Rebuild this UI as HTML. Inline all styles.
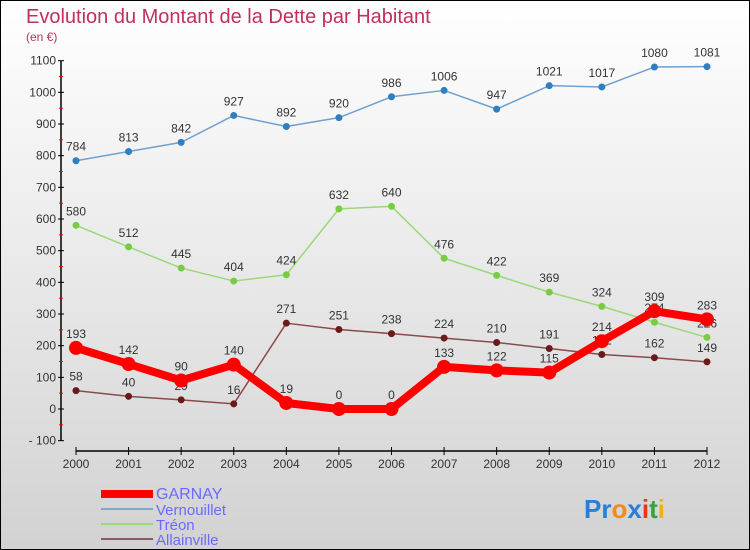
<!DOCTYPE html>
<html><head><meta charset="utf-8"><style>
body{margin:0;}
#wrap{width:748px;height:548px;border:1px solid #000;background:linear-gradient(#ffffff,#d2d2d2);position:relative;overflow:hidden;font-family:"Liberation Sans",sans-serif;}
</style></head><body>
<div id="wrap">
<svg id="chart" width="748" height="548">
<text x="25" y="22" font-size="20" fill="#c0305a">Evolution du Montant de la Dette par Habitant</text>
<text x="25" y="40" font-size="12" fill="#c0305a">(en €)</text>
<g id="axes"></g>
<g id="series"></g>
<g id="legend">
<rect x="100" y="489" width="52" height="8" fill="#ff0000"/>
<text x="155" y="498" font-size="16" fill="#6a6aff">GARNAY</text>
<rect x="100" y="507" width="52" height="2" fill="#7fa8c8"/>
<text x="155" y="514" font-size="15" fill="#6a6aff">Vernouillet</text>
<rect x="100" y="522" width="52" height="2" fill="#99d977"/>
<text x="155" y="529" font-size="15" fill="#6a6aff">Tréon</text>
<rect x="100" y="537" width="52" height="2" fill="#8b5a5a"/>
<text x="155" y="544" font-size="15" fill="#6a6aff">Allainville</text>
</g>
<text x="583" y="517" font-size="26" font-weight="bold"><tspan fill="#2a7fd4">Pr</tspan><tspan fill="#f08a1a">o</tspan><tspan fill="#2a7fd4">x</tspan><tspan fill="#e03a1a">i</tspan><tspan fill="#3aa040">t</tspan><tspan fill="#f0b01a">i</tspan></text>
</svg>
</div>
<script>
const years=[2000,2001,2002,2003,2004,2005,2006,2007,2008,2009,2010,2011,2012];
const vernouillet=[784,813,842,927,892,920,986,1006,947,1021,1017,1080,1081];
const treon=[580,512,445,404,424,632,640,476,422,369,324,274,226];
const allainville=[58,40,29,16,271,251,238,224,210,191,172,162,149];
const garnay=[193,142,90,140,19,0,0,133,122,115,214,309,283];
const yTicks=[-100,0,100,200,300,400,500,600,700,800,900,1000,1100];
const NS="http://www.w3.org/2000/svg";
function X(i){return 75+i*(706-75)/(years.length-1);}
function Y(v){return 408-v*(380/1200);}
function mk(tag,attrs,parent){const e=document.createElementNS(NS,tag);for(const k in attrs)e.setAttribute(k,attrs[k]);parent.appendChild(e);return e;}
const axes=document.getElementById('axes');
const ser=document.getElementById('series');
let ya=mk('line',{x1:60,y1:Y(1100),x2:60,y2:Y(-100),stroke:'#000','stroke-width':1.5},axes);


yTicks.forEach((v,k)=>{
 mk('line',{x1:57,x2:63,y1:Y(v),y2:Y(v),stroke:'#000'},axes);
 if(k<yTicks.length-1) mk('line',{x1:58,x2:62,y1:Y(v+50),y2:Y(v+50),stroke:'#f00'},axes);
 const t=mk('text',{x:55,y:Y(v)+4,'font-size':12,fill:'#333','text-anchor':'end'},axes);
 t.textContent=v<0?'- '+(-v):v;
 
 
});
let xa=mk('line',{x1:X(0),y1:450,x2:X(years.length-1),y2:450,stroke:'#000','stroke-width':1.5},axes);


years.forEach((yr,i)=>{
 mk('line',{x1:X(i),x2:X(i),y1:446,y2:454,stroke:'#000'},axes);
 const t=mk('text',{x:X(i),y:467,'font-size':12,fill:'#333','text-anchor':'middle'},axes);
 t.textContent=yr;
 
 
});
function draw(vals,name,color,width,r,ptColor){
 const g=mk('g',{},ser);
 
 
 const p=mk('polyline',{points:vals.map((v,i)=>X(i)+','+Y(v)).join(' '),fill:'none',stroke:color,'stroke-width':width,'stroke-linejoin':'round'},g);
 
 
 vals.forEach((v,i)=>{
  const c=mk('circle',{cx:X(i),cy:Y(v),r:r,fill:ptColor},g);
  
  
  const t=mk('text',{x:X(i),y:Y(v)-10,'font-size':12,fill:'#333','text-anchor':'middle'},g);
  t.textContent=v;
  
  
 });
}
draw(vernouillet,'vernouillet','#6fa0d0',1.5,3.5,'#2f7fc0');
draw(treon,'treon','#99d977',1.5,3.5,'#77cc44');
draw(allainville,'allainville','#8b4a4a',1.5,3.5,'#6a1a1a');
draw(garnay,'garnay','#ff0000',8,7,'#ff0000');
</script>
</body></html>
